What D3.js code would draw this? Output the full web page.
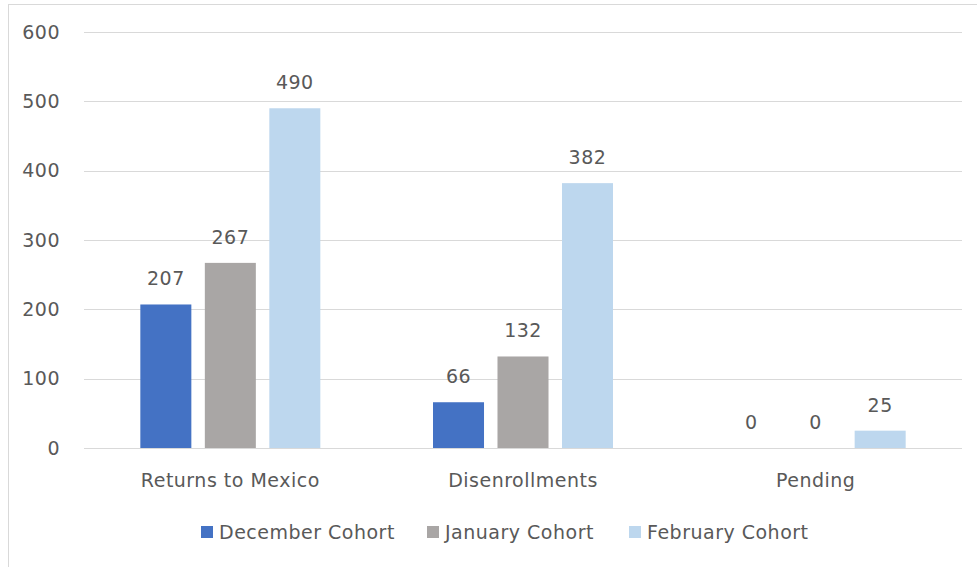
<!DOCTYPE html>
<html><head><meta charset="utf-8">
<script src="https://cdn.jsdelivr.net/npm/d3@7"></script>
<style>body{margin:0;background:#fff}svg{display:block}</style>
</head><body>
<svg id="c" width="977" height="567"></svg>
<script>
const categories = ["Returns to Mexico", "Disenrollments", "Pending"];
const series = ["December Cohort", "January Cohort", "February Cohort"];
const december = [207, 66, 0];
const january = [267, 132, 0];
const february = [490, 382, 25];
const yTicks = [0, 100, 200, 300, 400, 500, 600];
const colors = ["#4472C4", "#A9A6A5", "#BDD7EE"];

const values = [december, january, february];
const svg = d3.select("#c");
const font = "'DejaVu Sans', sans-serif";
const fs = 19;
const ls = "0.5px";
const textColor = "#595959";

function styleText(sel) {
  return sel.attr("font-family", font).attr("font-size", fs)
    .attr("letter-spacing", ls).attr("fill", textColor);
}

// chart border
svg.append("rect").attr("x", 8.5).attr("y", 4.5).attr("width", 990).attr("height", 600)
  .attr("fill", "none").attr("stroke", "#D9D9D9");

const y = d3.scaleLinear().domain([0, 600]).range([448, 32]);
const x0 = d3.scaleBand().domain(categories).range([84, 962]).padding(0);
const x1 = d3.scaleBand().domain(series).range([-90, 90]).paddingInner(0.209).paddingOuter(0);

// gridlines
svg.append("g").selectAll("line").data(yTicks).join("line")
  .attr("x1", 84).attr("x2", 962)
  .attr("y1", d => Math.round(y(d)) + 0.5).attr("y2", d => Math.round(y(d)) + 0.5)
  .attr("stroke", "#D9D9D9").attr("stroke-width", 1);

// y tick labels
styleText(svg.append("g").selectAll("text").data(yTicks).join("text")
  .attr("x", 60).attr("y", d => y(d)).attr("dy", "0.35em")
  .attr("text-anchor", "end")).text(d => d);

// bars
const groups = svg.append("g").selectAll("g").data(categories).join("g")
  .attr("transform", c => `translate(${x0(c) + x0.bandwidth() / 2},0)`);

groups.each(function(c, ci) {
  const g = d3.select(this);
  series.forEach((s, si) => {
    const v = values[si][ci];
    g.append("rect").attr("x", x1(s)).attr("width", x1.bandwidth())
      .attr("y", y(v)).attr("height", y(0) - y(v)).attr("fill", colors[si]);
    styleText(g.append("text").attr("x", x1(s) + x1.bandwidth() / 2).attr("y", y(v) - 19)
      .attr("text-anchor", "middle")).text(v);
  });
});

// category labels
styleText(svg.append("g").selectAll("text").data(categories).join("text")
  .attr("x", c => x0(c) + x0.bandwidth() / 2).attr("y", 487)
  .attr("text-anchor", "middle")).text(c => c);

// legend
const legendX = [201, 427, 629];
const lg = svg.append("g").selectAll("g").data(series).join("g")
  .attr("transform", (s, i) => `translate(${legendX[i]},526)`);
lg.append("rect").attr("width", 12).attr("height", 12).attr("fill", (s, i) => colors[i]);
styleText(lg.append("text").attr("x", 18).attr("y", 6).attr("dy", "0.35em")
  .attr("letter-spacing", "0.2px")).text(s => s);
</script>
</body></html>
